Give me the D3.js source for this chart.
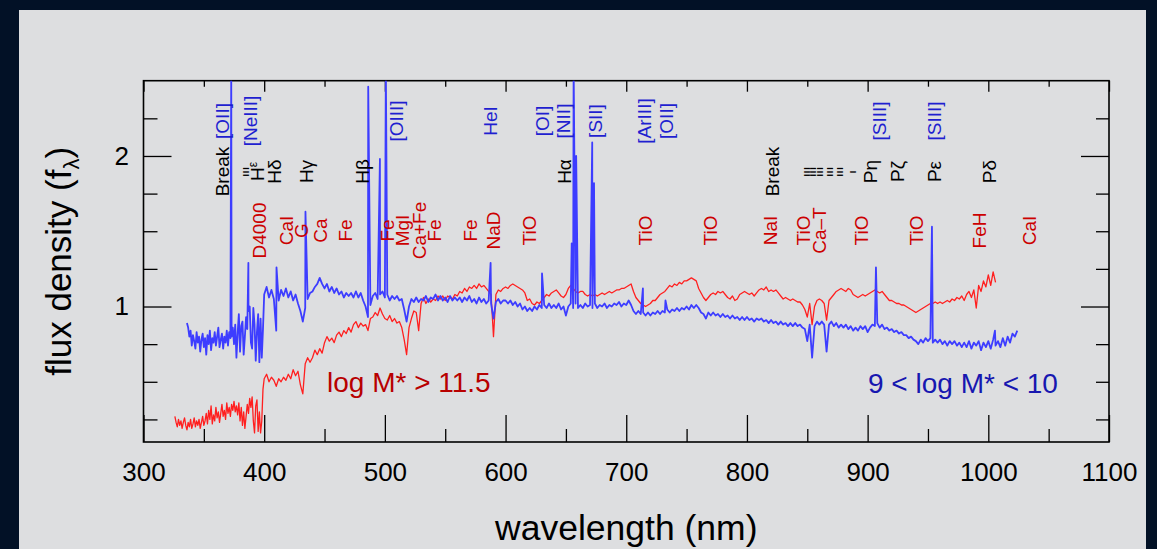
<!DOCTYPE html>
<html><head><meta charset="utf-8">
<script src="https://cdn.jsdelivr.net/npm/d3@7"></script>
<style>
body{margin:0;background:#021126;}
svg{display:block;font-family:"Liberation Sans",Arial,Helvetica,sans-serif;}
</style>
</head><body>
<svg id="c" width="1157" height="549"></svg>
<script>
// ---------------- DATA ----------------
const xDomain = [300, 1100];
const yDomain = [0.1, 2.5];
const xMajorTicks = [300, 400, 500, 600, 700, 800, 900, 1000, 1100];
const xMinorTicks = [350, 450, 550, 650, 750, 850, 950, 1050];
const yMajorTicks = [1, 2];
const yMinorTicks = [0.25, 0.5, 0.75, 1.25, 1.5, 1.75, 2.25];

// low-mass (blue) composite: UV part sampled every 1 nm from 336 nm
const blueUvStart = 336, blueUvStep = 1;
const blueUvFlux = [
 0.89,0.86,0.80,0.84,0.74,0.81,0.77,0.72,0.83,0.76,
 0.80,0.70,0.78,0.82,0.73,0.79,0.68,0.81,0.75,0.84,
 0.71,0.79,0.76,0.83,0.74,0.80,0.86,0.73,0.78,0.82,
 0.72,0.80,0.76,0.84,0.74,0.83,0.79,0.80,0.86,0.75,
 0.88,0.66,0.82,0.95,0.70,0.87,0.90,0.68,0.80,0.93,
 0.85,0.97,1.00,0.76,0.72,0.99,0.88,0.64,0.83,0.95,
 0.63,0.92,0.66,0.85
];
// ... and every 2 nm from 400 nm
const blueStart = 400, blueStep = 2;
const blueFlux = [
 1.08,1.13,1.06,1.11,1.05,0.84,1.04,1.11,1.07,1.12,
 1.06,1.10,1.04,1.08,1.02,0.97,0.90,0.99,1.05,1.09,
 1.10,1.13,1.15,1.19,1.15,1.12,1.15,1.10,1.13,1.09,
 1.12,1.08,1.10,1.06,1.09,1.07,1.09,1.06,1.10,1.06,
 1.09,1.04,1.00,0.93,1.01,1.07,1.09,1.05,1.08,1.10,
 1.06,1.08,1.04,1.07,1.05,1.07,1.04,1.05,0.98,0.90,
 1.00,1.05,1.03,1.06,1.03,1.05,1.04,1.07,1.03,1.06,
 1.05,1.08,1.04,1.07,1.04,1.06,1.03,1.07,1.04,1.06,
 1.04,1.06,1.03,1.06,1.04,1.07,1.03,1.05,1.02,1.06,
 1.03,1.05,1.02,1.04,1.02,0.92,1.03,1.05,1.02,1.04,
 1.04,1.02,1.04,1.01,1.03,1.00,1.02,0.98,1.00,0.97,
 0.99,0.97,1.00,0.98,1.01,0.99,1.01,0.99,1.02,0.99,
 1.01,0.99,1.02,0.98,1.00,0.94,1.00,1.02,0.99,1.02,
 0.99,1.01,0.99,1.02,1.00,1.01,0.99,1.02,0.99,1.01,
 1.00,1.02,0.99,1.01,1.00,1.02,1.01,1.03,1.00,1.02,
 1.01,1.04,1.01,0.97,0.95,0.97,0.95,0.96,0.94,0.96,
 0.94,0.96,0.95,0.97,0.95,0.97,0.96,0.98,0.96,0.98,
 0.97,0.99,0.97,0.99,0.98,1.00,0.98,1.01,0.99,1.01,
 0.99,0.96,0.95,0.92,0.96,0.94,0.96,0.94,0.95,0.93,
 0.95,0.93,0.94,0.92,0.94,0.92,0.93,0.91,0.93,0.91,
 0.93,0.91,0.92,0.90,0.92,0.91,0.92,0.90,0.91,0.89,
 0.91,0.89,0.90,0.88,0.90,0.88,0.89,0.87,0.89,0.87,
 0.89,0.87,0.88,0.86,0.85,0.77,0.88,0.66,0.87,0.90,
 0.88,0.90,0.88,0.70,0.88,0.90,0.87,0.89,0.86,0.88,
 0.86,0.88,0.85,0.87,0.84,0.86,0.84,0.87,0.85,0.87,
 0.83,0.86,0.88,0.87,0.89,0.86,0.88,0.85,0.86,0.84,
 0.85,0.83,0.84,0.82,0.83,0.81,0.81,0.79,0.80,0.78,
 0.77,0.75,0.78,0.76,0.79,0.77,0.79,0.76,0.78,0.76,
 0.78,0.75,0.77,0.74,0.77,0.75,0.77,0.74,0.76,0.73,
 0.76,0.73,0.77,0.72,0.76,0.74,0.77,0.71,0.76,0.73,
 0.77,0.72,0.78,0.74,0.77,0.73,0.79,0.74,0.80,0.76,
 0.82,0.80,0.84
];
// narrow emission lines of the blue spectrum
const blueLineWl   = [372.7, 386.9, 410.2, 434.2, 486.2, 495.9, 500.8, 587.6, 630.2, 654.8, 656.4, 658.5, 671.8, 673.3, 713.8, 732.5, 906.9, 953.3, 1005.5];
const blueLinePeak = [2.60,  1.29,  1.26,  1.63,  2.46,  1.98,  2.60,  1.29,  1.22,  1.42,  2.60,  2.00,  2.09,  1.82,  1.12,  1.04,  1.26,  1.53,  0.84];

// high-mass (red) composite: UV part every 1 nm from 326 nm
const redUvStart = 326, redUvStep = 1;
const redUvFlux = [
 0.27,0.23,0.20,0.25,0.21,0.24,0.19,0.23,0.26,0.21,
 0.18,0.23,0.20,0.25,0.19,0.22,0.26,0.20,0.24,0.21,
 0.25,0.19,0.23,0.27,0.21,0.24,0.29,0.22,0.31,0.25,
 0.34,0.22,0.28,0.24,0.33,0.26,0.30,0.23,0.29,0.35,
 0.27,0.31,0.25,0.36,0.29,0.33,0.27,0.35,0.31,0.37,
 0.30,0.34,0.28,0.36,0.24,0.33,0.21,0.30,0.19,0.27,
 0.35,0.29,0.39,0.33,0.40,0.24,0.16,0.34,0.38,0.17,
 0.30,0.16,0.24,0.45
];
// ... and every 2 nm from 400 nm
const redStart = 400, redStep = 2;
const redFlux = [
 0.52,0.55,0.50,
 0.53,0.51,0.47,0.52,0.50,0.53,0.51,0.55,0.52,0.58,
 0.54,0.57,0.48,0.42,0.62,0.66,0.63,0.66,0.71,0.68,
 0.72,0.69,0.76,0.80,0.77,0.79,0.76,0.81,0.83,0.80,
 0.84,0.82,0.86,0.83,0.88,0.90,0.86,0.89,0.87,0.88,
 0.84,0.92,0.93,0.96,0.94,0.99,0.95,0.92,0.91,0.94,
 0.90,0.92,0.89,0.90,0.86,0.78,0.68,0.86,0.92,0.97,
 0.96,0.84,1.02,1.06,1.02,1.05,1.03,1.05,1.04,1.07,
 1.05,1.07,1.04,1.07,1.06,1.05,1.08,1.07,1.10,1.09,
 1.12,1.10,1.13,1.12,1.14,1.12,1.15,1.13,1.14,1.12,
 1.10,1.08,0.80,1.08,1.11,1.10,1.12,1.13,1.12,1.14,
 1.15,1.14,1.13,1.12,1.11,1.09,1.04,1.05,1.02,1.01,
 1.03,1.02,1.04,1.06,1.08,1.07,1.09,1.10,1.11,1.09,
 1.07,1.06,1.08,1.12,1.14,1.12,1.10,1.09,1.10,1.10,
 1.08,1.07,1.08,1.07,1.08,1.07,1.08,1.09,1.08,1.09,
 1.10,1.09,1.10,1.11,1.11,1.12,1.12,1.13,1.14,1.15,
 1.10,1.06,1.04,1.02,1.01,1.00,1.01,1.02,1.04,1.04,
 1.06,1.08,1.09,1.10,1.12,1.14,1.13,1.15,1.14,1.16,
 1.15,1.17,1.17,1.18,1.19,1.18,1.17,1.12,1.09,1.06,
 1.04,1.06,1.08,1.09,1.08,1.10,1.09,1.10,1.08,1.06,
 1.05,1.07,1.04,1.05,1.08,1.09,1.10,1.09,1.08,1.09,
 1.07,1.09,1.11,1.12,1.11,1.13,1.10,1.11,1.10,1.11,
 1.09,1.07,1.05,1.06,1.05,1.04,1.05,1.04,1.03,1.03,
 1.01,0.98,0.93,1.02,0.88,1.00,1.04,1.05,1.04,1.02,
 0.91,1.04,1.06,1.08,1.10,1.11,1.12,1.11,1.10,1.12,
 1.11,1.08,1.07,1.06,1.07,1.08,1.07,1.08,1.09,1.10,
 1.11,1.10,1.09,1.10,1.08,1.06,1.04,1.04,1.03,1.02,
 1.02,1.01,1.01,1.00,0.99,0.98,0.97,0.96,0.97,0.98,
 0.99,1.00,1.01,1.02,1.02,1.03,1.02,1.03,1.02,1.03,
 1.04,1.03,1.05,1.04,1.06,1.05,1.07,1.04,1.08,1.10,
 1.06,1.11,0.99,1.14,1.10,1.17,1.13,1.21,1.14,1.23,
 1.16
];

// line identifications (wavelength of label column, nm)
const emissionNames = ["[OII]","[NeIII]","[OIII]","HeI","[OI]","[NII]","[SII]","[ArIII]","[OII]","[SIII]","[SIII]"];
const emissionWl    = [365.0, 388.2, 509.8, 587.7, 630.5, 647.8, 674.7, 714.8, 733.4, 909.5, 955.0];
const hydrogenNames = ["Break","III","H^ε","Hδ","Hγ","Hβ","Hα","Break","III","III","III","III","III","I","Pη","Pζ","Pε","Pδ"];
const hydrogenWl    = [365.0, 384.7, 394.4, 408.1, 435.0, 481.4, 648.5, 821.1, 849.4, 854.6, 860.4, 868.7, 877.0, 887.8, 902.5, 924.6, 955.0, 1000.6];
const absorptionNames = ["D4000","CaI","G","Ca","Fe","Fe","MgI","Ca+Fe","Fe","Fe","NaD","TiO","TiO","TiO","NaI","TiO","Ca–T","TiO","TiO","FeH","CaI"];
const absorptionWl    = [395.8, 418.1, 430.5, 446.2, 467.6, 502.1, 514.6, 528.2, 540.7, 571.1, 589.8, 619.5, 715.5, 770.0, 819.0, 846.6, 860.4, 895.0, 940.5, 992.3, 1033.7];

const seriesLabels = ["log M* > 11.5", "9 < log M* < 10"];

// ---------------- LAYOUT ----------------
const X0 = 143.5, X1 = 1109, Y0 = 442, Y1 = 80.7;
const svg = d3.select("#c");
svg.append("rect").attr("x", 19).attr("y", 10).attr("width", 1127).attr("height", 560).attr("fill", "#dddee0");

const x = d3.scaleLinear().domain(xDomain).range([X0, X1]);
const y = d3.scaleLinear().domain(yDomain).range([Y0, Y1]);

svg.append("clipPath").attr("id", "clip").append("rect")
  .attr("x", X0).attr("y", Y1).attr("width", X1 - X0).attr("height", Y0 - Y1);

function styleAxis(g, fs) {
  g.select(".domain").remove();
  g.selectAll(".tick line").attr("stroke", "#000").attr("stroke-width", 1.3);
  g.selectAll("text").attr("fill", "#000").attr("font-size", fs)
    .attr("font-family", '"Liberation Sans",Arial,Helvetica,sans-serif');
}
svg.append("g").attr("transform", `translate(0,${Y0})`)
  .call(d3.axisBottom(x).tickValues(xMajorTicks).tickSize(-27).tickPadding(20.5).tickFormat(d3.format("d")))
  .call(g => styleAxis(g, 26));
svg.append("g").attr("transform", `translate(0,${Y0})`)
  .call(d3.axisBottom(x).tickValues(xMinorTicks).tickSize(-13).tickFormat(""))
  .call(g => styleAxis(g, 10));
svg.append("g").attr("transform", `translate(0,${Y1})`)
  .call(d3.axisTop(x).tickValues(xMajorTicks).tickSize(-11).tickFormat(""))
  .call(g => styleAxis(g, 10));
svg.append("g").attr("transform", `translate(0,${Y1})`)
  .call(d3.axisTop(x).tickValues(xMinorTicks).tickSize(-6).tickFormat(""))
  .call(g => styleAxis(g, 10));
svg.append("g").attr("transform", `translate(${X0},0)`)
  .call(d3.axisLeft(y).tickValues(yMajorTicks).tickSize(-28).tickPadding(14.5).tickFormat(d3.format("d")))
  .call(g => styleAxis(g, 26));
svg.append("g").attr("transform", `translate(${X0},0)`)
  .call(d3.axisLeft(y).tickValues(yMinorTicks).tickSize(-14).tickFormat(""))
  .call(g => styleAxis(g, 10));
svg.append("g").attr("transform", `translate(${X1},0)`)
  .call(d3.axisRight(y).tickValues(yMajorTicks).tickSize(-28).tickFormat(""))
  .call(g => styleAxis(g, 10));
svg.append("g").attr("transform", `translate(${X1},0)`)
  .call(d3.axisRight(y).tickValues(yMinorTicks).tickSize(-13).tickFormat(""))
  .call(g => styleAxis(g, 10));

svg.append("rect").attr("x", X0).attr("y", Y1).attr("width", X1 - X0).attr("height", Y0 - Y1)
  .attr("fill", "none").attr("stroke", "#000").attr("stroke-width", 1.6);

// ---------------- SPECTRA ----------------
const redPts = redUvFlux.map((f, i) => ({ wl: redUvStart + i * redUvStep, f }))
  .concat(redFlux.map((f, i) => ({ wl: redStart + i * redStep, f })));
const bluePts = blueUvFlux.map((f, i) => ({ wl: blueUvStart + i * blueUvStep, f }))
  .concat(blueFlux.map((f, i) => ({ wl: blueStart + i * blueStep, f })))
  .concat(blueLineWl.map((wl, i) => ({ wl, f: blueLinePeak[i] })))
  .sort((a, b) => a.wl - b.wl);

const line = d3.line().x(d => x(d.wl)).y(d => y(d.f));
const plot = svg.append("g").attr("clip-path", "url(#clip)");
plot.append("path").datum(redPts).attr("d", line)
  .attr("fill", "none").attr("stroke", "#ff1f1f").attr("stroke-width", 1.3).attr("stroke-linejoin", "round");
plot.append("path").datum(bluePts).attr("d", line)
  .attr("fill", "none").attr("stroke", "#3d3dff").attr("stroke-width", 1.8).attr("stroke-linejoin", "round");

// ---------------- LINE LABELS ----------------
const rowEmissionY = 121, rowHydrogenY = 171.5, rowAbsorptionY = 230.5;
function drawRow(names, wls, color, yc) {
  names.forEach((n, i) => {
    const t = svg.append("text")
      .attr("transform", `translate(${x(wls[i])},${yc}) rotate(-90)`)
      .attr("text-anchor", "middle").attr("fill", color);
    if (/^I+$/.test(n)) {
      t.attr("font-size", 9).attr("font-weight", "bold").attr("dy", "0.35em").attr("letter-spacing", 0.8).text(n);
    } else if (n.includes("^")) {
      const [a, b] = n.split("^");
      t.attr("font-size", 19).attr("dy", "0.35em");
      t.append("tspan").text(a);
      t.append("tspan").attr("font-size", 12).attr("dy", -7).text(b);
    } else {
      t.attr("font-size", 19).attr("dy", "0.35em").text(n);
    }
  });
}
drawRow(emissionNames, emissionWl, "#1f1fd0", rowEmissionY);
drawRow(hydrogenNames, hydrogenWl, "#000000", rowHydrogenY);
drawRow(absorptionNames, absorptionWl, "#cc0000", rowAbsorptionY);

// ---------------- SERIES LABELS ----------------
svg.append("text").attr("x", 327).attr("y", 392).attr("font-size", 28).attr("fill", "#b80000").text(seriesLabels[0]);
svg.append("text").attr("x", 868).attr("y", 393).attr("font-size", 28).attr("fill", "#1717b0").text(seriesLabels[1]);

// ---------------- AXIS TITLES ----------------
svg.append("text").attr("x", (X0 + X1) / 2).attr("y", 540).attr("text-anchor", "middle")
  .attr("font-size", 35.5).attr("fill", "#000").text("wavelength (nm)");
const yt = svg.append("text").attr("transform", `translate(71,${(Y0 + Y1) / 2}) rotate(-90)`)
  .attr("text-anchor", "middle").attr("font-size", 35).attr("fill", "#000");
yt.append("tspan").text("flux density (f");
yt.append("tspan").attr("font-size", 22).attr("dy", 8).text("λ");
yt.append("tspan").attr("dy", -8).text(")");
</script>
</body></html>
